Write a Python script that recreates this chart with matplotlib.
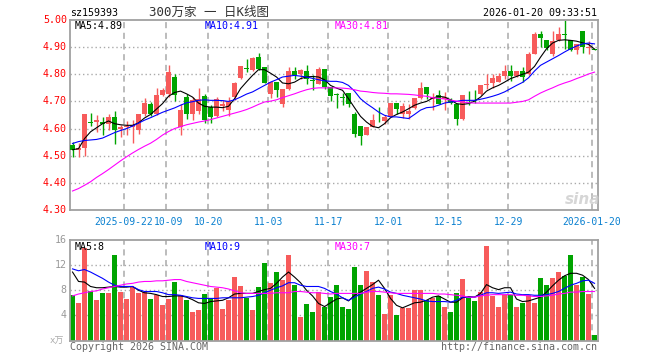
import numpy as np
import matplotlib.pyplot as plt

# ---- daily K-line data ----
opens = [4.540, 4.522, 4.528, 4.624, 4.623, 4.624, 4.618, 4.643, 4.600, 4.606,
         4.607, 4.596, 4.655, 4.692, 4.655, 4.724, 4.726, 4.790, 4.606, 4.716,
         4.655, 4.665, 4.719, 4.679, 4.648, 4.683, 4.670, 4.716, 4.786, 4.822,
         4.814, 4.863, 4.826, 4.728, 4.771, 4.692, 4.746, 4.812, 4.800, 4.812,
         4.778, 4.765, 4.818, 4.753, 4.727, 4.716, 4.731, 4.652, 4.608, 4.575,
         4.606, 4.629, 4.628, 4.643, 4.694, 4.655, 4.655, 4.677, 4.713, 4.753,
         4.710, 4.722, 4.710, 4.704, 4.689, 4.637, 4.702, 4.717, 4.726, 4.760,
         4.768, 4.771, 4.792, 4.812, 4.792, 4.812, 4.800, 4.875, 4.947, 4.928,
         4.875, 4.926, 4.948, 4.927, 4.888, 4.959, 4.898, 4.892]
highs = [4.550, 4.548, 4.655, 4.657, 4.649, 4.644, 4.655, 4.666, 4.612, 4.627,
         4.632, 4.654, 4.714, 4.698, 4.750, 4.748, 4.835, 4.800, 4.692, 4.726,
         4.716, 4.749, 4.726, 4.686, 4.716, 4.705, 4.715, 4.770, 4.832, 4.858,
         4.863, 4.878, 4.828, 4.771, 4.771, 4.747, 4.826, 4.826, 4.820, 4.833,
         4.796, 4.826, 4.818, 4.753, 4.731, 4.731, 4.731, 4.661, 4.608, 4.606,
         4.652, 4.679, 4.649, 4.694, 4.694, 4.694, 4.689, 4.714, 4.771, 4.753,
         4.731, 4.743, 4.735, 4.713, 4.689, 4.724, 4.738, 4.741, 4.760, 4.802,
         4.802, 4.806, 4.833, 4.833, 4.812, 4.826, 4.882, 4.955, 4.961, 4.928,
         4.961, 4.974, 5.000, 4.927, 4.912, 4.960, 4.922, 4.895]
lows = [4.495, 4.495, 4.500, 4.608, 4.587, 4.576, 4.595, 4.545, 4.570, 4.575,
        4.547, 4.580, 4.648, 4.645, 4.649, 4.719, 4.716, 4.700, 4.578, 4.637,
        4.631, 4.655, 4.621, 4.621, 4.643, 4.665, 4.648, 4.704, 4.784, 4.808,
        4.812, 4.814, 4.768, 4.714, 4.716, 4.679, 4.743, 4.784, 4.784, 4.765,
        4.741, 4.765, 4.747, 4.701, 4.677, 4.686, 4.679, 4.569, 4.541, 4.575,
        4.606, 4.624, 4.616, 4.643, 4.655, 4.640, 4.637, 4.673, 4.710, 4.710,
        4.670, 4.689, 4.670, 4.690, 4.614, 4.630, 4.686, 4.694, 4.722, 4.747,
        4.750, 4.771, 4.784, 4.777, 4.790, 4.771, 4.796, 4.873, 4.900, 4.888,
        4.869, 4.924, 4.895, 4.885, 4.875, 4.878, 4.875, 4.888]
closes = [4.520, 4.528, 4.652, 4.621, 4.632, 4.617, 4.642, 4.594, 4.605, 4.611,
          4.613, 4.652, 4.694, 4.652, 4.722, 4.743, 4.808, 4.722, 4.670, 4.655,
          4.706, 4.710, 4.633, 4.643, 4.710, 4.692, 4.701, 4.769, 4.830, 4.820,
          4.861, 4.820, 4.768, 4.771, 4.741, 4.747, 4.812, 4.796, 4.814, 4.784,
          4.776, 4.820, 4.753, 4.720, 4.725, 4.714, 4.689, 4.581, 4.572, 4.606,
          4.630, 4.627, 4.643, 4.694, 4.673, 4.682, 4.665, 4.714, 4.749, 4.728,
          4.716, 4.689, 4.716, 4.694, 4.637, 4.724, 4.700, 4.715, 4.759, 4.762,
          4.786, 4.793, 4.812, 4.792, 4.812, 4.790, 4.875, 4.949, 4.934, 4.898,
          4.922, 4.949, 4.946, 4.888, 4.910, 4.902, 4.902, 4.890]
volume = [7.2, 5.9, 14.8, 7.9, 6.4, 7.5, 7.5, 13.6, 7.7, 6.6,
          8.5, 7.5, 7.8, 6.6, 7.2, 5.6, 6.6, 9.3, 7.2, 6.4,
          4.6, 4.8, 7.4, 6.7, 8.4, 5.0, 6.5, 10.1, 8.6, 6.8,
          4.8, 8.5, 12.3, 9.1, 10.9, 9.6, 13.6, 8.8, 3.8, 5.8,
          4.6, 7.8, 5.4, 6.9, 8.8, 5.4, 5.0, 11.7, 8.8, 11.0,
          9.3, 7.2, 4.2, 7.2, 4.0, 5.1, 5.1, 8.0, 8.0, 6.5,
          6.7, 7.1, 5.4, 4.5, 7.5, 9.8, 6.8, 6.3, 7.7, 15.0,
          7.1, 5.3, 7.2, 7.2, 5.3, 5.9, 7.2, 5.9, 9.9, 8.8,
          9.9, 10.9, 10.2, 13.6, 8.8, 10.1, 7.4, 0.8]

ma5 = [4.522, 4.526, 4.563, 4.588, 4.603, 4.618, 4.628, 4.618, 4.614, 4.612,
       4.612, 4.621, 4.639, 4.652, 4.672, 4.692, 4.719, 4.733, 4.738, 4.728,
       4.716, 4.694, 4.682, 4.679, 4.679, 4.677, 4.682, 4.710, 4.747, 4.772,
       4.796, 4.817, 4.817, 4.804, 4.790, 4.768, 4.765, 4.771, 4.784, 4.790,
       4.792, 4.790, 4.780, 4.759, 4.749, 4.741, 4.710, 4.677, 4.645, 4.624,
       4.608, 4.603, 4.618, 4.640, 4.652, 4.661, 4.673, 4.686, 4.694, 4.700,
       4.712, 4.719, 4.716, 4.706, 4.692, 4.689, 4.692, 4.701, 4.716, 4.738,
       4.750, 4.759, 4.771, 4.784, 4.792, 4.800, 4.808, 4.829, 4.863, 4.894,
       4.915, 4.925, 4.927, 4.925, 4.922, 4.916, 4.910, 4.893]
ma10 = [4.545, 4.552, 4.556, 4.558, 4.560, 4.565, 4.575, 4.585, 4.593, 4.600,
        4.609, 4.620, 4.631, 4.640, 4.650, 4.660, 4.668, 4.676, 4.686, 4.695,
        4.699, 4.704, 4.706, 4.704, 4.704, 4.703, 4.700, 4.706, 4.716, 4.727,
        4.735, 4.747, 4.759, 4.771, 4.780, 4.790, 4.793, 4.796, 4.793, 4.790,
        4.785, 4.780, 4.776, 4.774, 4.774, 4.770, 4.759, 4.738, 4.710, 4.692,
        4.677, 4.661, 4.649, 4.643, 4.643, 4.640, 4.637, 4.652, 4.668, 4.677,
        4.679, 4.686, 4.694, 4.698, 4.700, 4.704, 4.704, 4.704, 4.708, 4.713,
        4.719, 4.726, 4.735, 4.747, 4.759, 4.770, 4.787, 4.812, 4.833, 4.845,
        4.857, 4.869, 4.882, 4.894, 4.904, 4.912, 4.915, 4.912]
ma30 = [4.370, 4.379, 4.391, 4.404, 4.420, 4.434, 4.449, 4.465, 4.481, 4.496,
        4.510, 4.523, 4.535, 4.546, 4.560, 4.576, 4.589, 4.600, 4.607, 4.614,
        4.619, 4.624, 4.628, 4.633, 4.639, 4.645, 4.651, 4.657, 4.663, 4.670,
        4.679, 4.689, 4.698, 4.701, 4.706, 4.714, 4.721, 4.728, 4.736, 4.743,
        4.748, 4.750, 4.750, 4.750, 4.750, 4.749, 4.747, 4.743, 4.738, 4.736,
        4.733, 4.731, 4.730, 4.728, 4.728, 4.727, 4.726, 4.724, 4.721, 4.719,
        4.714, 4.711, 4.709, 4.705, 4.701, 4.698, 4.695, 4.694, 4.694, 4.694,
        4.694, 4.694, 4.694, 4.694, 4.697, 4.700, 4.706, 4.719, 4.731, 4.741,
        4.750, 4.760, 4.768, 4.775, 4.784, 4.792, 4.801, 4.808]
vma5 = [10.9, 9.4, 9.3, 8.6, 8.4, 8.4, 8.5, 8.6, 8.5, 8.5,
        8.6, 8.0, 7.6, 7.5, 7.3, 7.0, 7.0, 7.1, 7.1, 6.9,
        6.5, 6.0, 5.9, 6.2, 6.3, 6.4, 6.8, 7.4, 7.5, 7.5,
        7.5, 7.8, 8.1, 8.3, 9.1, 10.1, 10.9, 10.1, 9.2, 8.0,
        7.1, 5.9, 5.4, 6.0, 6.6, 6.8, 6.3, 7.2, 7.7, 8.3,
        8.9, 9.6, 8.3, 6.7, 5.6, 5.2, 5.6, 6.0, 6.1, 6.4,
        6.9, 7.1, 6.6, 6.1, 6.1, 6.8, 7.0, 6.9, 7.5, 8.9,
        8.4, 8.1, 8.4, 8.4, 6.6, 6.2, 6.3, 6.6, 6.9, 7.7,
        8.7, 9.6, 10.3, 10.7, 10.7, 10.4, 9.7, 8.3]
vma10 = [11.4, 11.1, 11.3, 10.9, 10.4, 9.9, 9.3, 8.8, 8.6, 8.6,
         8.6, 8.1, 7.8, 7.8, 7.8, 7.6, 7.3, 7.3, 7.2, 7.0,
         6.8, 6.7, 6.7, 6.7, 6.7, 6.8, 6.8, 6.8, 6.8, 6.9,
         7.0, 7.2, 7.6, 8.0, 8.4, 8.7, 9.2, 9.2, 8.8, 8.6,
         8.6, 8.6, 8.3, 7.8, 7.4, 6.8, 6.4, 6.9, 7.4, 7.8,
         8.3, 8.5, 8.2, 7.7, 7.5, 7.2, 7.0, 6.8, 6.6, 6.3,
         6.2, 6.2, 6.2, 6.1, 6.4, 6.9, 6.9, 6.9, 7.2, 7.6,
         7.6, 7.5, 7.6, 7.7, 7.4, 7.3, 7.3, 7.2, 7.2, 7.3,
         7.5, 7.8, 8.3, 8.8, 9.1, 9.5, 9.6, 9.1]
vma30 = [7.1, 7.4, 7.6, 7.8, 7.9, 8.2, 8.4, 8.6, 8.8, 9.0,
         9.1, 9.3, 9.4, 9.4, 9.5, 9.5, 9.6, 9.7, 9.7, 9.4,
         9.2, 9.0, 8.8, 8.6, 8.5, 8.4, 8.2, 7.9, 7.6, 7.5,
         7.5, 7.5, 7.5, 7.5, 7.6, 7.6, 7.6, 7.8, 7.8, 7.7,
         7.6, 7.6, 7.5, 7.4, 7.5, 7.5, 7.5, 7.5, 7.5, 7.7,
         7.8, 7.8, 7.7, 7.6, 7.5, 7.5, 7.5, 7.5, 7.5, 7.5,
         7.5, 7.4, 7.4, 7.3, 7.2, 7.1, 6.9, 6.9, 7.1, 7.2,
         7.3, 7.3, 7.3, 7.3, 7.2, 7.2, 7.1, 7.0, 7.0, 7.1,
         7.2, 7.4, 7.5, 7.7, 7.7, 7.8, 7.8, 7.8]

date_idx = [9, 16, 23, 33, 43, 53, 63, 73, 87]
date_lbl = ['2025-09-22', '10-09', '10-20', '11-03', '11-17',
            '12-01', '12-15', '12-29', '2026-01-20']
price_ticks = [4.30, 4.40, 4.50, 4.60, 4.70, 4.80, 4.90, 5.00]
vol_ticks = [4, 8, 12, 16]

RED = '#f75b5b'
GREEN = '#00a400'
GRID = '#aaaaaa'
FRAME = '#a0a0a0'
MONO = 'DejaVu Sans Mono'
FS = 7.2

W, H = 660, 360
fig = plt.figure(figsize=(6.6, 3.6), dpi=100)

def px(x, y):
    return x / W, 1 - y / H

L, R = 70, 597.7
axp = fig.add_axes([L / W, 1 - 210 / H, (R - L) / W, 190 / H])
axv = fig.add_axes([L / W, 1 - 340.5 / H, (R - L) / W, 100.5 / H])

x = np.arange(len(closes))
o = np.array(opens); c = np.array(closes)
cols = [RED if cc >= oo else GREEN for oo, cc in zip(o, c)]

for ax in (axp, axv):
    ax.set_xlim(-0.42, 87.53)
    ax.set_xticks([]); ax.set_yticks([])
    for s in ax.spines.values():
        s.set_color(FRAME); s.set_linewidth(1.3)
    for d in date_idx:
        ax.axvline(d - 0.4, color=GRID, lw=1.1, ls=(0, (4, 3)), zorder=0)

# price panel
axp.set_ylim(4.30, 5.00)
for p in price_ticks[1:-1]:
    axp.axhline(p, color=GRID, lw=1, ls=(0, (1, 2)), zorder=0)
axp.vlines(x, lows, highs, colors=cols, lw=1, zorder=2)
body = np.maximum(np.abs(c - o), 0.0025)
axp.bar(x, body, bottom=np.minimum(o, c), width=0.83, color=cols, zorder=3)
axp.plot(x, ma5, color='black', lw=0.8, zorder=4)
axp.plot(x, ma10, color='#0000ff', lw=0.8, zorder=4)
axp.plot(x, ma30, color='#ff00ff', lw=0.8, zorder=4)

ty = axp.get_yaxis_transform()
for p in price_ticks:
    axp.text(-0.006, p, '%.2f' % p, transform=ty, ha='right', va='center',
             color='red', fontsize=FS, family=MONO)
tx = axp.get_xaxis_transform()
for d, s in zip(date_idx, date_lbl):
    # the first two labels sit side by side in the original
    shift = 0.45 if s == '10-09' else 0.0
    axp.text(d - 0.4 + shift, -0.063, s, transform=tx, ha='center', va='center',
             color='#0a80d0', fontsize=7.0, family=MONO)

axp.text(565 / W, 1 - 200 / H, 'sina', transform=fig.transFigure, ha='left',
         va='center', fontsize=11, style='italic', weight='bold',
         color='#cccccc', alpha=0.8)

# volume panel
axv.set_ylim(0, 16)
for v in vol_ticks[:-1]:
    axv.axhline(v, color=GRID, lw=1, ls=(0, (1, 2)), zorder=0)
axv.bar(x, volume, width=0.83, color=cols, zorder=2)
axv.plot(x, vma5, color='black', lw=0.8, zorder=4)
axv.plot(x, vma10, color='#0000ff', lw=0.8, zorder=4)
axv.plot(x, vma30, color='#ff00ff', lw=0.8, zorder=4)
tyv = axv.get_yaxis_transform()
for v in vol_ticks:
    axv.text(-0.006, v, str(v), transform=tyv, ha='right', va='center',
             color='#999999', fontsize=FS, family=MONO)

# texts
def ftext(xp, yp, s, **kw):
    kw.setdefault('fontsize', FS)
    kw.setdefault('family', MONO)
    fig.text(*px(xp, yp), s, **kw)

ftext(70, 13, 'sz159393', ha='left', va='center')
ftext(209, 12.5, '300万家 一 日K线图', ha='center', va='center', fontsize=9,
      family=['DejaVu Sans Mono', 'Noto Sans CJK SC'], color='#333333')
ftext(597, 13, '2026-01-20 09:33:51', ha='right', va='center')

ftext(75, 26, 'MA5:4.89', ha='left', va='center', color='black')
ftext(205, 26, 'MA10:4.91', ha='left', va='center', color='#0000ff')
ftext(335, 26, 'MA30:4.81', ha='left', va='center', color='#ff00ff')

ftext(75, 247, 'MA5:8', ha='left', va='center', color='black')
ftext(205, 247, 'MA10:9', ha='left', va='center', color='#0000ff')
ftext(335, 247, 'MA30:7', ha='left', va='center', color='#ff00ff')

ftext(64, 341, 'x万', ha='right', va='center', color='#aaaaaa', fontsize=6.5,
      family=['DejaVu Sans Mono', 'Noto Sans CJK SC'])
ftext(70, 347, 'Copyright 2026 SINA.COM', ha='left', va='center', color='#666666')
ftext(597, 347, 'http://finance.sina.com.cn', ha='right', va='center', color='#666666')

fig.savefig('out.png', dpi=100)
